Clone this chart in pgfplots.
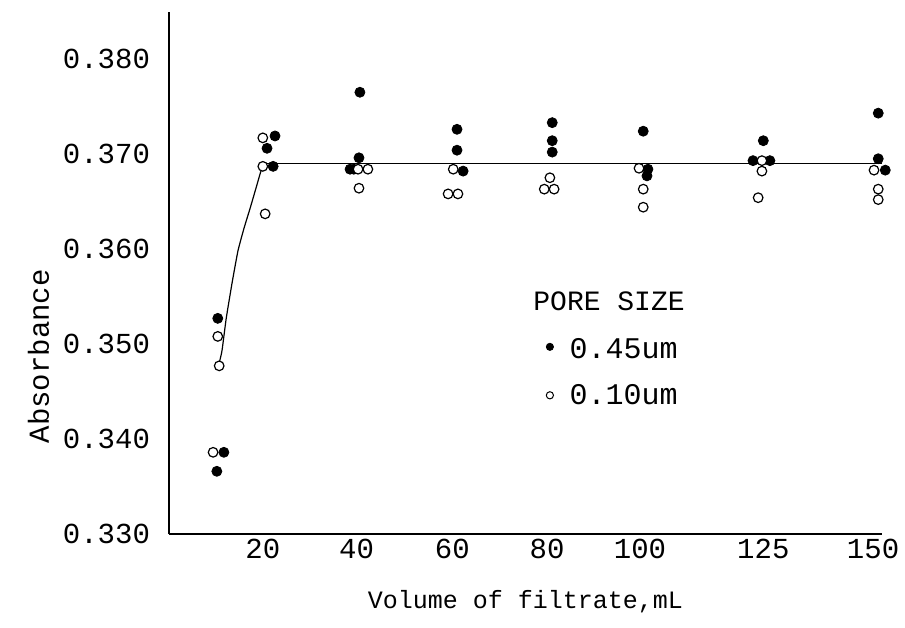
\documentclass[border=0pt]{standalone}
\usepackage{pgfplots}
\pgfplotsset{compat=1.18}
\usepackage{fontspec}
\setmainfont{Liberation Mono}

% Absorbance against filtrate volume for two filter pore sizes
\begin{document}
\begin{tikzpicture}
\useasboundingbox (0,0) rectangle (452.5pt,313.5pt);
\begin{axis}[
  at={(84.5pt,46.5pt)}, anchor=south west,
  scale only axis,
  width=356.5pt, height=261.25pt,
  xmin=0, xmax=152,
  ymin=0.330, ymax=0.385,
  axis x line=bottom, axis y line=left,
  axis line style={line width=1pt, -},
  clip=false,
  major tick length=0pt,
  /pgf/number format/assume math mode=true,
  xtick={20,40,60.4,80.6,100.4,126.7,150.1},
  xticklabels={20,40,60,80,100,125,150},
  ytick={0.330,0.340,0.350,0.360,0.370,0.380},
  yticklabels={0.330,0.340,0.350,0.360,0.370,0.380},
  ticklabel style={font=\fontsize{14.5}{16}\selectfont},
  xticklabel style={yshift=1pt},
  yticklabel style={xshift=-6pt},
  xlabel={Volume of filtrate,mL},
  ylabel={Absorbance},
  xlabel style={font=\fontsize{12.5}{15}\selectfont, yshift=-9pt},
  ylabel style={font=\fontsize{14.5}{16}\selectfont, at={(ticklabel cs:0.34)}},
]
% fitted curve
\addplot[black, line width=0.6pt, smooth, tension=0.3] coordinates {
  (10.7,0.3480) (11.3,0.3493) (12.2,0.3527) (13.4,0.3563) (14.7,0.3598)
  (16.0,0.3622) (17.3,0.3643) (18.6,0.3665) (19.8,0.3685) (20.8,0.3690)
};
\addplot[black, line width=0.6pt] coordinates {(20.8,0.3690) (152,0.3690)};

% pore size 0.45 um
\addplot[only marks, mark=*, mark size=2.5pt, black] coordinates {
  (10.4,0.3527) (11.7,0.3386) (10.2,0.3366)
  (22.6,0.3719) (20.9,0.3706) (22.2,0.3687)
  (40.7,0.3765) (40.5,0.3696) (38.6,0.3684) (39.4,0.3684)
  (61.4,0.3726) (61.4,0.3704) (62.7,0.3682)
  (81.7,0.3733) (81.7,0.3714) (81.7,0.3702)
  (101.1,0.3724) (102.1,0.3684) (101.9,0.3677)
  (126.7,0.3714) (124.5,0.3693) (128.1,0.3693)
  (151.2,0.3743) (151.2,0.3695) (152.7,0.3683)
};
% pore size 0.10 um
\addplot[only marks, mark=*, mark size=2.4pt,
  mark options={draw=black, fill=white, line width=0.6pt}] coordinates {
  (10.4,0.3508) (10.7,0.3477) (9.4,0.3386)
  (20.0,0.3717) (20.0,0.3687) (20.5,0.3637)
  (40.3,0.3684) (42.4,0.3684) (40.5,0.3664)
  (60.6,0.3684) (59.5,0.3658) (61.6,0.3658)
  (81.2,0.3675) (80.0,0.3663) (82.1,0.3663)
  (100.2,0.3685) (101.1,0.3663) (101.1,0.3644)
  (126.4,0.3693) (126.4,0.3682) (125.6,0.3654)
  (150.3,0.3683) (151.2,0.3663) (151.2,0.3652)
};

% key
\node[anchor=west, font=\fontsize{14}{16}\selectfont, inner sep=0pt]
  at (axis cs:77.6,0.3545) {PORE SIZE};
\addplot[only marks, mark=*, mark size=1.8pt, black] coordinates {(81.2,0.3497)};
\addplot[only marks, mark=*, mark size=1.8pt,
  mark options={draw=black, fill=white, line width=0.5pt}] coordinates {(81.2,0.3446)};
\node[anchor=west, font=\fontsize{15}{17}\selectfont, inner sep=0pt]
  at (axis cs:85.3,0.3495) {0.45um};
\node[anchor=west, font=\fontsize{15}{17}\selectfont, inner sep=0pt]
  at (axis cs:85.3,0.3447) {0.10um};
\end{axis}
\end{tikzpicture}
\end{document}
